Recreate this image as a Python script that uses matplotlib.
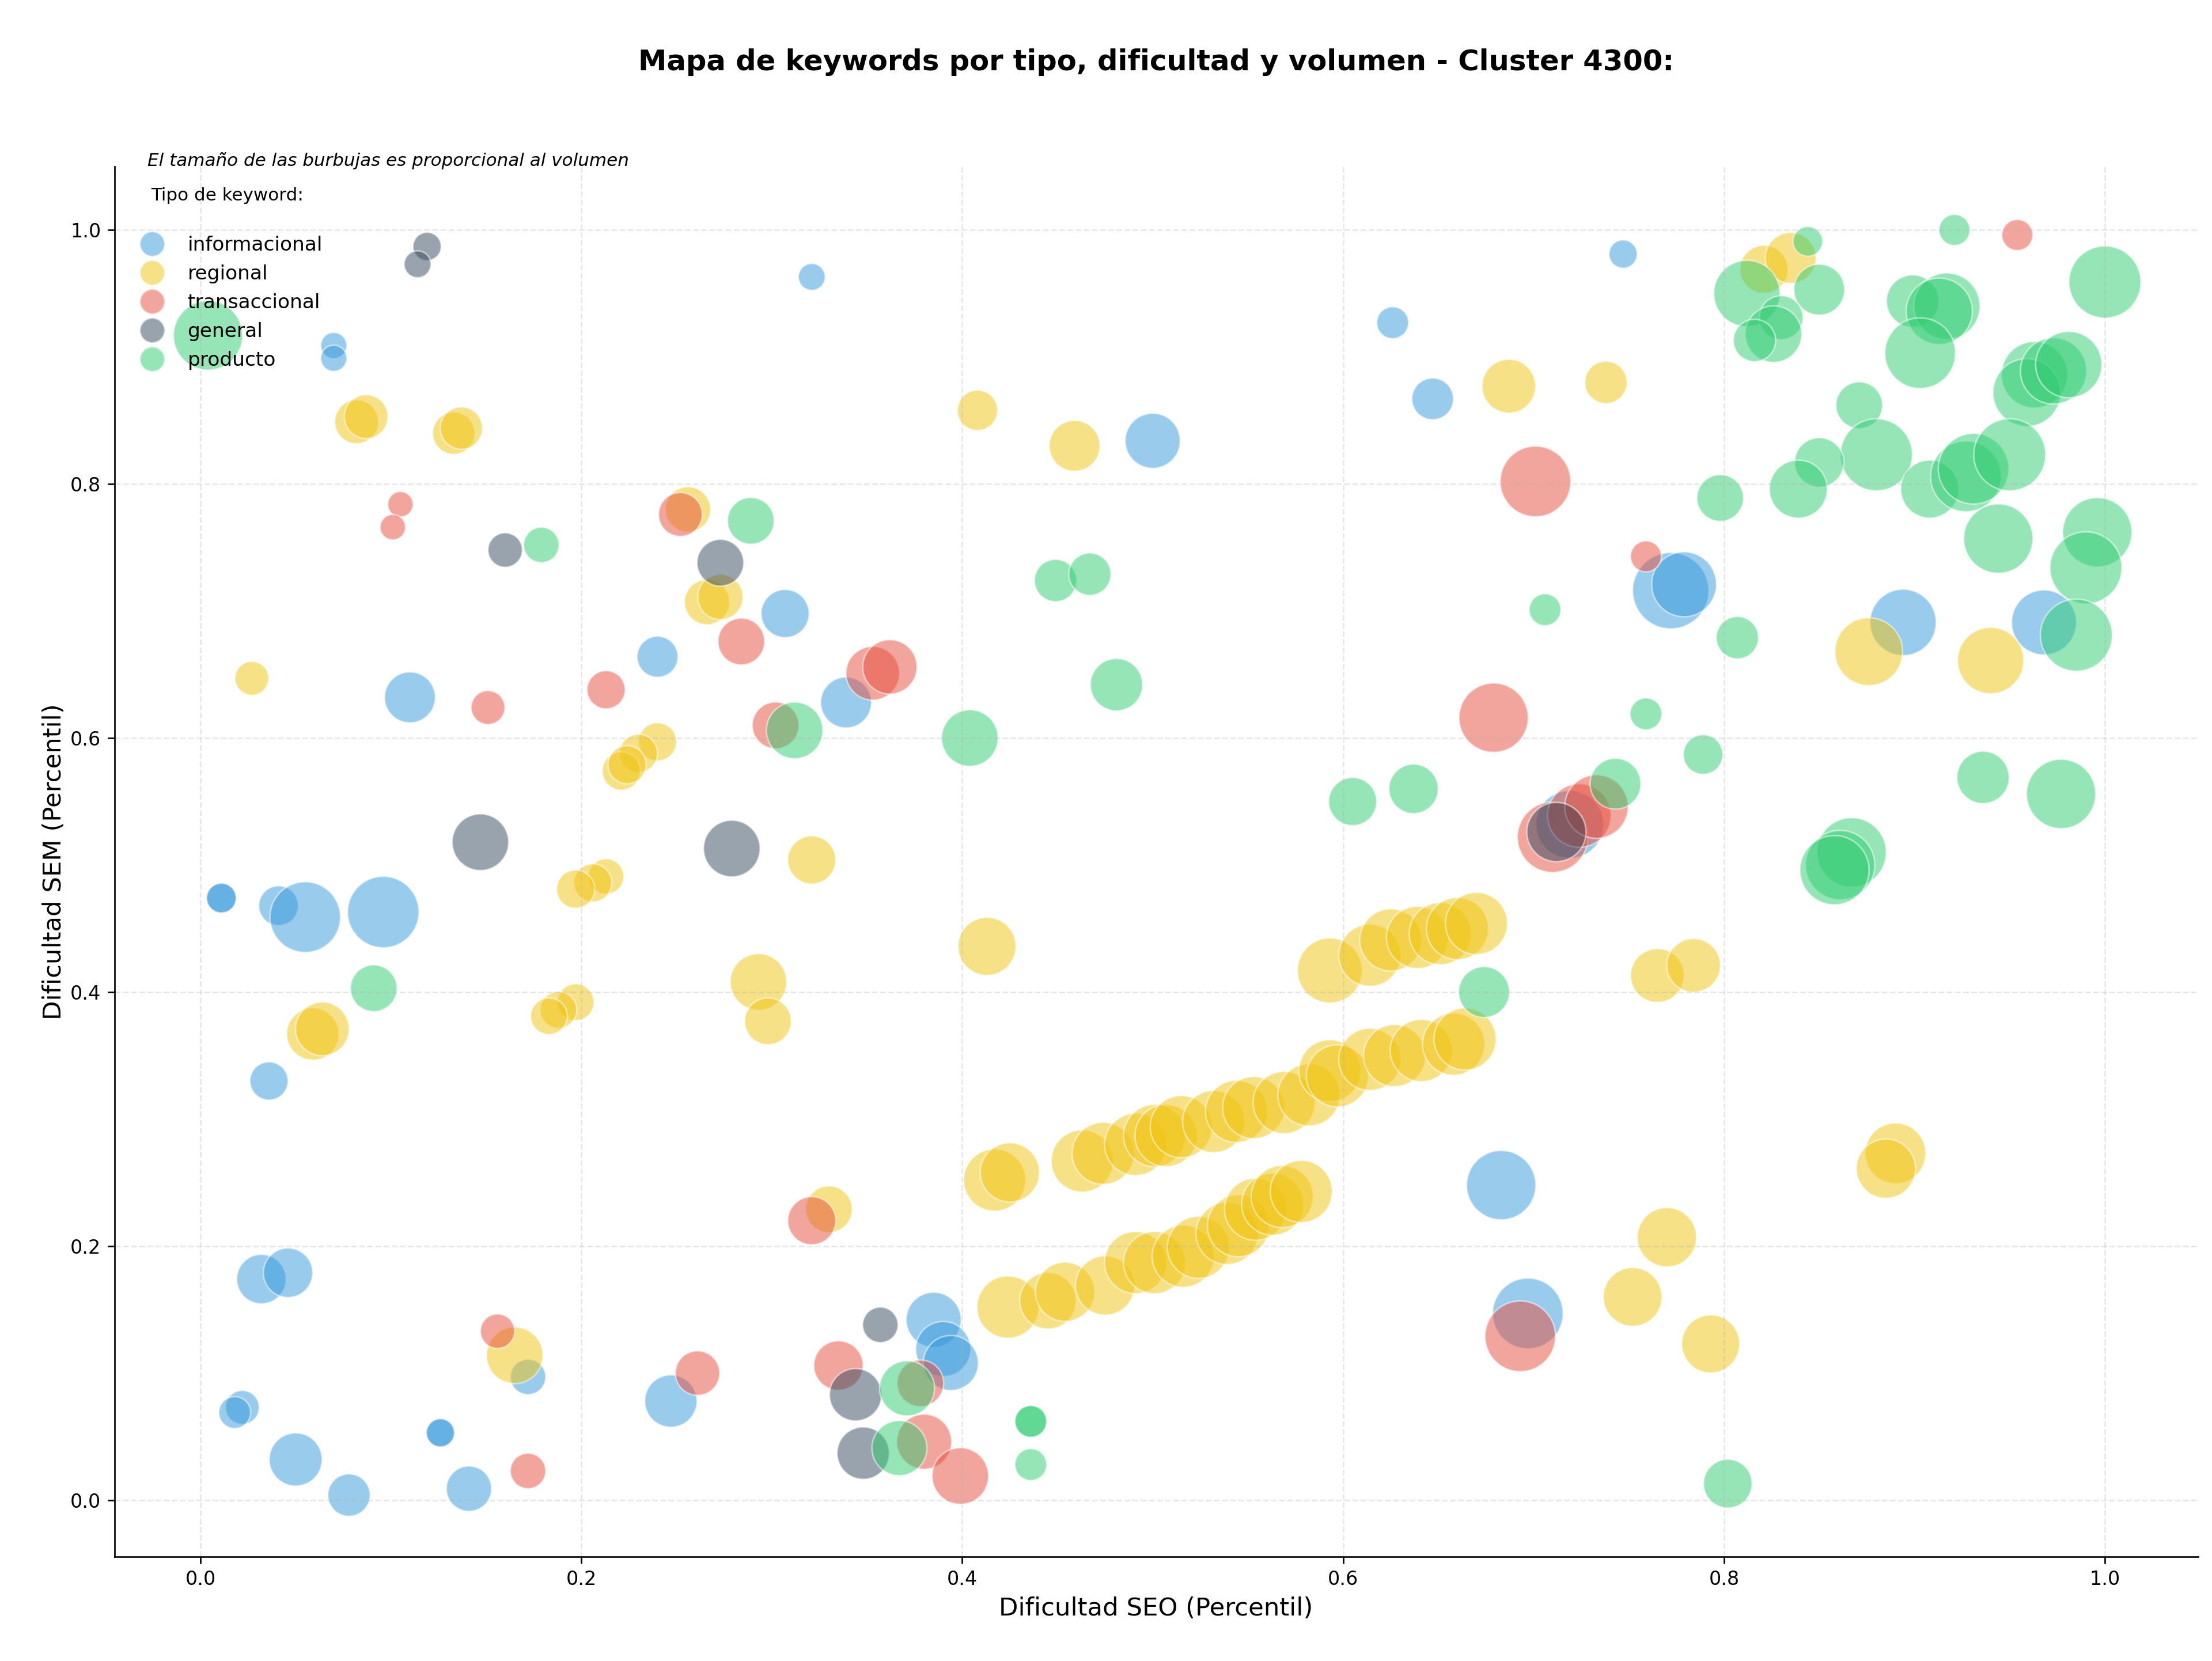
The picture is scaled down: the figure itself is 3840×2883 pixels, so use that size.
import matplotlib.pyplot as plt
from matplotlib.lines import Line2D

# Datos: dificultad SEO, dificultad SEM y volumen por tipo de keyword
tipos = ['informacional', 'regional', 'transaccional', 'general', 'producto']
colores = ['#3498db', '#f1c40f', '#e74c3c', '#34495e', '#2ecc71']

info_seo = [0.321, 0.070, 0.070, 0.747, 0.626, 0.647, 0.500, 0.307, 0.240, 0.110,
            0.339, 0.772, 0.779, 0.894, 0.968, 0.011, 0.011, 0.041, 0.055, 0.096,
            0.036, 0.032, 0.046, 0.022, 0.018, 0.050, 0.078, 0.126, 0.126, 0.141,
            0.172, 0.247, 0.385, 0.390, 0.394, 0.683, 0.697, 0.719]
info_sem = [0.963, 0.909, 0.899, 0.981, 0.927, 0.867, 0.834, 0.698, 0.664, 0.632,
            0.628, 0.716, 0.721, 0.691, 0.691, 0.474, 0.474, 0.468, 0.459, 0.463,
            0.330, 0.174, 0.179, 0.073, 0.069, 0.032, 0.004, 0.053, 0.053, 0.009,
            0.097, 0.078, 0.142, 0.119, 0.108, 0.248, 0.147, 0.532]
info_vol = [195, 185, 185, 216, 275, 470, 820, 625, 455, 700,
            700, 1575, 1140, 1190, 1140, 240, 240, 425, 1350, 1380,
            395, 660, 660, 310, 275, 760, 485, 216, 216, 555,
            340, 740, 820, 820, 820, 1300, 1350, 1245]

reg_seo = [0.082, 0.087, 0.133, 0.137, 0.027, 0.256, 0.266, 0.273, 0.240, 0.230,
           0.221, 0.224, 0.213, 0.206, 0.197, 0.197, 0.188, 0.183, 0.321, 0.293,
           0.298, 0.413, 0.059, 0.064, 0.165, 0.330, 0.408, 0.459, 0.687, 0.738,
           0.821, 0.835, 0.876, 0.940, 0.765, 0.784, 0.890, 0.885, 0.770, 0.752,
           0.793,
           0.417, 0.425, 0.463, 0.474, 0.491, 0.501, 0.507, 0.515, 0.532, 0.544,
           0.553, 0.569, 0.582, 0.593, 0.597, 0.614, 0.627, 0.641, 0.658, 0.664,
           0.424, 0.445, 0.454, 0.475, 0.491, 0.501, 0.516, 0.524, 0.539, 0.545,
           0.554, 0.563, 0.568, 0.578,
           0.593, 0.614, 0.625, 0.639, 0.651, 0.660, 0.670]
reg_sem = [0.849, 0.853, 0.840, 0.844, 0.647, 0.780, 0.707, 0.711, 0.597, 0.588,
           0.574, 0.579, 0.491, 0.486, 0.481, 0.392, 0.386, 0.381, 0.504, 0.408,
           0.377, 0.436, 0.367, 0.371, 0.114, 0.229, 0.858, 0.830, 0.877, 0.880,
           0.969, 0.978, 0.668, 0.661, 0.413, 0.421, 0.273, 0.261, 0.207, 0.160,
           0.123,
           0.252, 0.258, 0.267, 0.273, 0.280, 0.287, 0.287, 0.294, 0.298, 0.306,
           0.309, 0.313, 0.319, 0.338, 0.334, 0.347, 0.350, 0.354, 0.359, 0.363,
           0.152, 0.157, 0.164, 0.169, 0.187, 0.187, 0.192, 0.199, 0.210, 0.216,
           0.229, 0.233, 0.239, 0.243,
           0.417, 0.429, 0.441, 0.443, 0.446, 0.450, 0.454]
reg_vol = [520, 520, 485, 485, 310, 555, 555, 555, 395, 395,
           395, 395, 340, 395, 395, 365, 365, 365, 625, 865,
           590, 910, 740, 780, 865, 590, 440, 700, 780, 485,
           625, 700, 1245, 1190, 780, 780, 1000, 950, 950, 930,
           910,
           1045, 950, 1045, 1045, 1045, 1045, 1045, 1045, 1045, 1045,
           1045, 1045, 1045, 1045, 1045, 1045, 1045, 1045, 1045, 1045,
           1045, 865, 950, 950, 1045, 1045, 1045, 1045, 1045, 1045,
           1045, 1045, 1045, 1045,
           1140, 1045, 1045, 1045, 1045, 1045, 1045]

trans_seo = [0.105, 0.101, 0.954, 0.252, 0.151, 0.213, 0.284, 0.302, 0.353, 0.362,
             0.701, 0.759, 0.679, 0.321, 0.156, 0.172, 0.261, 0.335, 0.378, 0.380,
             0.399, 0.693, 0.710, 0.724, 0.733]
trans_sem = [0.784, 0.766, 0.996, 0.776, 0.624, 0.638, 0.676, 0.610, 0.651, 0.656,
             0.802, 0.743, 0.616, 0.220, 0.133, 0.023, 0.100, 0.106, 0.092, 0.046,
             0.019, 0.129, 0.522, 0.539, 0.546]
trans_vol = [175, 175, 260, 520, 310, 395, 590, 590, 780, 800,
             1350, 260, 1300, 625, 320, 340, 535, 660, 590, 820,
             865, 1350, 1350, 1095, 1095]

gen_seo = [0.119, 0.114, 0.160, 0.273, 0.147, 0.279, 0.357, 0.344, 0.348, 0.712]
gen_sem = [0.987, 0.973, 0.748, 0.738, 0.518, 0.513, 0.138, 0.083, 0.037, 0.526]
gen_vol = [216, 195, 320, 590, 865, 865, 340, 740, 740, 950]

prod_seo = [0.004, 0.179, 0.289, 0.312, 0.091, 0.404, 0.449, 0.467, 0.481, 0.605,
            0.637, 0.674, 0.706, 0.759, 0.789, 0.807, 0.798, 0.802, 0.436, 0.436,
            0.436, 0.371, 0.367, 0.743,
            0.844, 0.921, 0.812, 0.850, 0.830, 0.826, 0.816, 0.899, 0.917, 0.913,
            0.903, 1.000, 0.963, 0.959, 0.973, 0.981, 0.871, 0.880, 0.850, 0.839,
            0.908, 0.927, 0.931, 0.950, 0.944, 0.996, 0.990, 0.985, 0.936, 0.977,
            0.867, 0.861, 0.858]
prod_sem = [0.917, 0.752, 0.771, 0.606, 0.403, 0.600, 0.724, 0.729, 0.642, 0.550,
            0.560, 0.400, 0.701, 0.619, 0.587, 0.679, 0.789, 0.013, 0.062, 0.062,
            0.028, 0.088, 0.041, 0.564,
            0.991, 1.000, 0.950, 0.953, 0.931, 0.918, 0.913, 0.944, 0.940, 0.936,
            0.903, 0.959, 0.886, 0.872, 0.889, 0.894, 0.862, 0.823, 0.817, 0.796,
            0.796, 0.806, 0.812, 0.823, 0.757, 0.762, 0.734, 0.681, 0.569, 0.556,
            0.510, 0.500, 0.496]
prod_vol = [1300, 340, 590, 865, 590, 865, 485, 485, 740, 625,
            660, 700, 275, 275, 425, 485, 590, 640, 275, 275,
            275, 820, 820, 700,
            240, 260, 1190, 700, 520, 865, 485, 740, 1190, 1190,
            1350, 1405, 1190, 1245, 1190, 1190, 590, 1405, 660, 910,
            910, 1350, 1350, 1405, 1300, 1300, 1405, 1405, 740, 1300,
            1300, 1300, 1300]

series = [(info_seo, info_sem, info_vol),
          (reg_seo, reg_sem, reg_vol),
          (trans_seo, trans_sem, trans_vol),
          (gen_seo, gen_sem, gen_vol),
          (prod_seo, prod_sem, prod_vol)]

fig = plt.figure(figsize=(16, 12.0125), dpi=240)
ax = fig.add_axes([0.0517, 0.0629, 0.942, 0.8369])

for (seo, sem, vol), color in zip(series, colores):
    ax.scatter(seo, sem, s=vol, c=color, alpha=0.5, edgecolors='white', linewidths=0.8)

ax.set_xlim(-0.0452, 1.0489)
ax.set_ylim(-0.0444, 1.05)
ax.set_xticks([0.0, 0.2, 0.4, 0.6, 0.8, 1.0])
ax.set_yticks([0.0, 0.2, 0.4, 0.6, 0.8, 1.0])
ax.tick_params(labelsize=10)
ax.grid(True, linestyle='--', alpha=0.3)
ax.spines['top'].set_visible(False)
ax.spines['right'].set_visible(False)

ax.set_xlabel('Dificultad SEO (Percentil)', fontsize=13)
ax.set_ylabel('Dificultad SEM (Percentil)', fontsize=13, labelpad=2)
ax.set_title('Mapa de keywords por tipo, dificultad y volumen - Cluster 4300:',
             fontsize=14.9, fontweight='bold', pad=50)

ax.text(0.016, 1.004, 'El tamaño de las burbujas es proporcional al volumen',
        transform=ax.transAxes, fontsize=9.3, style='italic', va='center')
ax.text(0.0176, 0.979, 'Tipo de keyword:', transform=ax.transAxes, fontsize=9.3, va='center')

# Legend
legend_elements = [Line2D([0], [0], marker='o', linestyle='', label=t, markerfacecolor=c,
                          markeredgecolor='white', alpha=0.5, markersize=13)
                   for t, c in zip(tipos, colores)]
ax.legend(handles=legend_elements, loc='upper left', bbox_to_anchor=(0.0047, 0.956),
          frameon=False, fontsize=10.3, labelspacing=0.5, borderaxespad=0)

plt.savefig('out.png', dpi=240)
plt.close()
